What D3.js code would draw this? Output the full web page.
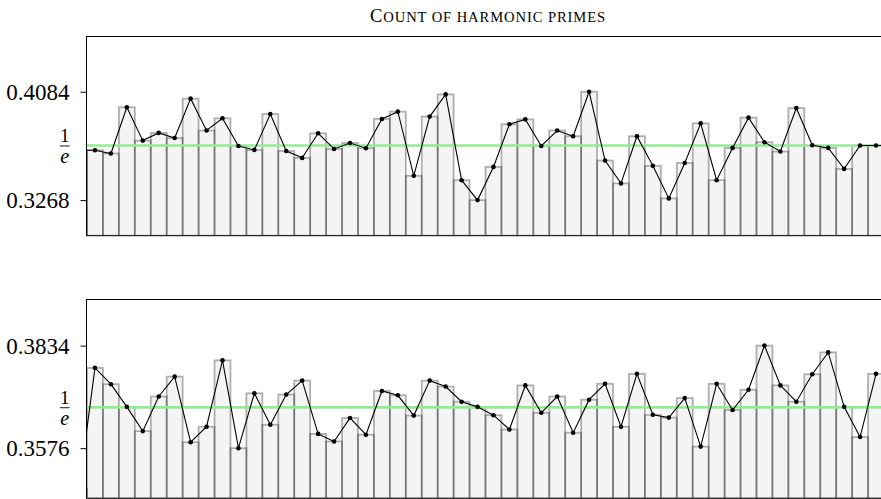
<!DOCTYPE html>
<html>
<head>
<meta charset="utf-8">
<script src="https://cdn.jsdelivr.net/npm/d3@7"></script>
<style>
  html, body { margin: 0; padding: 0; background: #fff; }
  svg { display: block; }
  text { font-family: "Liberation Serif", "DejaVu Serif", serif; fill: #000; }
</style>
</head>
<body>
<script>
// Share of harmonic primes per block, two ranges.
// Each series starts at index 0; the visible window is blocks 1..50,
// the neighbours outside it only feed the connecting line.
const blockWindow = [1, 50];

const topValues = [
  0.3644,
  0.3644, 0.3619, 0.3967, 0.3716, 0.3774, 0.3736, 0.4032, 0.3792, 0.3884, 0.3676,
  0.3646, 0.3916, 0.3638, 0.3586, 0.3771, 0.3653, 0.3698, 0.3659, 0.3879, 0.3934,
  0.3451, 0.3897, 0.4064, 0.3418, 0.3268, 0.3518, 0.3839, 0.3876, 0.3676, 0.3792,
  0.3749, 0.4084, 0.3566, 0.3394, 0.3749, 0.3526, 0.3281, 0.3548, 0.3846, 0.3418,
  0.3661, 0.3889, 0.3704, 0.3634, 0.3961, 0.3681, 0.3661, 0.3503, 0.3679, 0.3679,
  0.3679
];
const topDomain = [0.30, 0.45];
const topTicks = [0.3268, 0.4084];
const topTickLabels = ["0.3268", "0.4084"];

const bottomValues = [
  0.3474,
  0.3778, 0.3737, 0.3680, 0.3619, 0.3706, 0.3756, 0.3591, 0.3630, 0.3797, 0.3576,
  0.3714, 0.3635, 0.3711, 0.3746, 0.3612, 0.3593, 0.3652, 0.3610, 0.3720, 0.3709,
  0.3658, 0.3746, 0.3731, 0.3693, 0.3680, 0.3659, 0.3623, 0.3734, 0.3665, 0.3706,
  0.3615, 0.3698, 0.3738, 0.3630, 0.3763, 0.3660, 0.3653, 0.3702, 0.3580, 0.3738,
  0.3672, 0.3723, 0.3834, 0.3734, 0.3693, 0.3762, 0.3817, 0.3680, 0.3604, 0.3763
];
const bottomDomain = [0.345, 0.395];
const bottomTicks = [0.3576, 0.3834];
const bottomTickLabels = ["0.3576", "0.3834"];

const reference = 1 / Math.E;
// title set in small capitals: [initial capital, remaining small capitals]
const titleParts = ["C", "OUNT OF HARMONIC PRIMES"];

const W = 881, H = 499;
const plotLeft = 87, plotRight = 884;

const svg = d3.select("body").append("svg")
  .attr("width", W).attr("height", H)
  .attr("viewBox", `0 0 ${W} ${H}`);

const title = svg.append("text")
  .attr("x", 488).attr("y", 22.3)
  .attr("text-anchor", "middle")
  .style("letter-spacing", "0.9px");
title.append("tspan").style("font-size", "18.5px").text(titleParts[0]);
title.append("tspan").style("font-size", "14.6px").text(titleParts[1]);

const x = d3.scaleLinear()
  .domain([blockWindow[0] - 0.5, blockWindow[1] + 0.5])
  .range([plotLeft, plotRight]);

function panel(id, values, domain, ticks, tickLabels, top, bottom) {
  const y = d3.scaleLinear().domain(domain).range([bottom, top]);
  const g = svg.append("g");

  g.append("clipPath").attr("id", id)
    .append("rect")
    .attr("x", plotLeft).attr("y", top)
    .attr("width", plotRight - plotLeft).attr("height", bottom - top);

  const plot = g.append("g").attr("clip-path", `url(#${id})`);
  const data = values.map((v, i) => ({ i, v }));

  // bar fills first, outlines on top so shared edges add up
  plot.append("g").selectAll("rect").data(data).join("rect")
    .attr("x", d => x(d.i - 0.5))
    .attr("width", d => x(d.i + 0.5) - x(d.i - 0.5))
    .attr("y", d => y(d.v))
    .attr("height", d => bottom - y(d.v))
    .attr("fill", "#f4f4f4");

  plot.append("g").selectAll("rect").data(data).join("rect")
    .attr("x", d => x(d.i - 0.5))
    .attr("width", d => x(d.i + 0.5) - x(d.i - 0.5))
    .attr("y", d => y(d.v))
    .attr("height", d => bottom - y(d.v))
    .attr("fill", "none")
    .attr("stroke", "rgba(0,0,0,0.3)")
    .attr("stroke-width", 1.8);

  // reference level 1/e
  plot.append("line")
    .attr("x1", plotLeft).attr("x2", plotRight)
    .attr("y1", y(reference)).attr("y2", y(reference))
    .attr("stroke", "#90ee90")
    .attr("stroke-width", 2.6);

  plot.append("path")
    .datum(data)
    .attr("fill", "none")
    .attr("stroke", "#000")
    .attr("stroke-width", 1.1)
    .attr("d", d3.line().x(d => x(d.i)).y(d => y(d.v)));

  plot.append("g").selectAll("circle").data(data).join("circle")
    .attr("cx", d => x(d.i)).attr("cy", d => y(d.v))
    .attr("r", 2.3).attr("fill", "#000");

  // frame
  g.append("rect")
    .attr("x", plotLeft - 0.5).attr("y", top)
    .attr("width", plotRight - plotLeft).attr("height", bottom - top)
    .attr("fill", "none").attr("stroke", "#000").attr("stroke-width", 1);

  // y axis: numeric ticks
  const axis = d3.axisLeft(y)
    .tickValues(ticks)
    .tickSize(6)
    .tickPadding(11)
    .tickFormat((d, k) => tickLabels[k]);
  const ag = g.append("g").attr("transform", `translate(${plotLeft - 0.5},0)`).call(axis);
  ag.select(".domain").remove();
  ag.selectAll(".tick line").attr("stroke", "#000");
  ag.selectAll(".tick text")
    .attr("fill", "#000")
    .attr("dy", "0.33em")
    .style("font-family", "'Liberation Serif', serif")
    .style("font-size", "23px");

  // 1/e label as a stacked fraction
  const yc = y(reference);
  const fx = 64.8;
  g.append("text").attr("x", fx).attr("y", yc - 3.6)
    .attr("text-anchor", "middle").style("font-size", "19px").text("1");
  g.append("line")
    .attr("x1", fx - 4.9).attr("x2", fx + 4.9)
    .attr("y1", yc + 0.4).attr("y2", yc + 0.4)
    .attr("stroke", "#000").attr("stroke-width", 0.9);
  g.append("text").attr("x", fx).attr("y", yc + 17.5)
    .attr("text-anchor", "middle").style("font-size", "20px")
    .style("font-style", "italic").text("e");
}

panel("clip-top", topValues, topDomain, topTicks, topTickLabels, 36.5, 235.7);
panel("clip-bottom", bottomValues, bottomDomain, bottomTicks, bottomTickLabels, 299.5, 498.3);
</script>
</body>
</html>
